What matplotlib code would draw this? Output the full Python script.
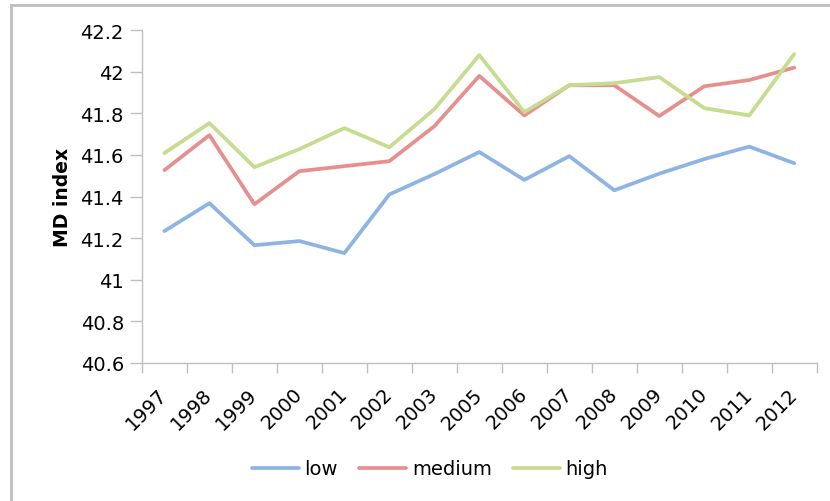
import matplotlib.pyplot as plt
from matplotlib.lines import Line2D
import numpy as np

years = ['1997', '1998', '1999', '2000', '2001', '2002', '2003', '2005',
         '2006', '2007', '2008', '2009', '2010', '2011', '2012']
low = [41.234, 41.368, 41.166, 41.186, 41.128, 41.41, 41.508, 41.614,
       41.48, 41.594, 41.43, 41.51, 41.58, 41.64, 41.56]
medium = [41.527, 41.695, 41.363, 41.522, 41.546, 41.57, 41.738, 41.98,
          41.79, 41.935, 41.935, 41.787, 41.93, 41.96, 42.02]
high = [41.609, 41.753, 41.541, 41.628, 41.729, 41.637, 41.82, 42.08,
        41.806, 41.935, 41.945, 41.974, 41.825, 41.79, 42.085]

plt.rcParams['font.family'] = ['DejaVu Sans']

fig = plt.figure(figsize=(8.3, 5.02), dpi=100)
ax = fig.add_axes([0.171, 0.275, 0.813, 0.663])

x = np.arange(len(years))
ax.plot(x, low, color='#8EB4E3', lw=2.7, label='low', solid_capstyle='round')
ax.plot(x, medium, color='#E6908E', lw=2.7, label='medium', solid_capstyle='round')
ax.plot(x, high, color='#C6DC91', lw=2.7, label='high', solid_capstyle='round')

ax.set_xlim(-0.5, len(years) - 0.5)
ax.set_ylim(40.6, 42.2)
ax.set_yticks(np.arange(40.6, 42.21, 0.2))
ax.set_yticklabels(['40.6', '40.8', '41', '41.2', '41.4', '41.6', '41.8', '42', '42.2'])

ax.set_xticks(np.arange(-0.5, len(years), 1.0))
ax.set_xticklabels([])
ax.set_xticks(x, minor=True)
ax.set_xticklabels(years, minor=True, rotation=45, ha='right', va='center',
                   rotation_mode='anchor')
ax.tick_params(axis='x', which='minor', length=0, pad=20, labelsize=14)
ax.tick_params(axis='x', which='major', length=7, color='#BFBFBF', width=1)
ax.tick_params(axis='y', length=9, color='#BFBFBF', width=1, labelsize=14, pad=4)

for s in ['top', 'right']:
    ax.spines[s].set_visible(False)
for s in ['left', 'bottom']:
    ax.spines[s].set_color('#BFBFBF')
    ax.spines[s].set_linewidth(1)

ax.set_ylabel('MD index', fontsize=13.5, fontweight='bold', labelpad=6)

fig.legend(loc='center', bbox_to_anchor=(0.518, 0.064), ncol=3, frameon=False,
           fontsize=14, handlelength=2.4, columnspacing=1.1, handletextpad=0.3)

fig.add_artist(Line2D([11 / 830, 11 / 830], [0, 1 - 6 / 502],
                      transform=fig.transFigure, color='#BFBFBF', lw=2))
fig.add_artist(Line2D([11 / 830, 1], [1 - 6 / 502, 1 - 6 / 502],
                      transform=fig.transFigure, color='#BFBFBF', lw=2))

fig.savefig('out.png', dpi=100)
